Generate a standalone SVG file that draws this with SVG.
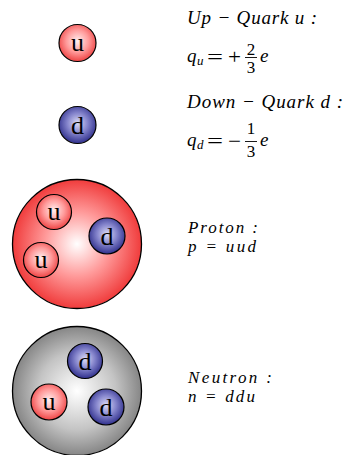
<svg xmlns="http://www.w3.org/2000/svg" width="345" height="455" viewBox="0 0 345 455">
<defs>
<radialGradient id="gRed" cx="50%" cy="45%" r="55%">
<stop offset="0" stop-color="#fff0f0"/>
<stop offset="0.55" stop-color="#ff9a9a"/>
<stop offset="1" stop-color="#ee4444"/>
</radialGradient>
<radialGradient id="gBlue" cx="50%" cy="45%" r="55%">
<stop offset="0" stop-color="#dcdcf6"/>
<stop offset="0.5" stop-color="#8585cc"/>
<stop offset="1" stop-color="#2f2f8c"/>
</radialGradient>
<radialGradient id="gProton" cx="50%" cy="50%" r="50%">
<stop offset="0" stop-color="#ffffff"/>
<stop offset="0.5" stop-color="#ff9a9a"/>
<stop offset="1" stop-color="#f03c3c"/>
</radialGradient>
<radialGradient id="gGray" cx="50%" cy="50%" r="50%">
<stop offset="0" stop-color="#ffffff"/>
<stop offset="0.6" stop-color="#c4c4c4"/>
<stop offset="1" stop-color="#868686"/>
</radialGradient>
</defs>
<style>
.q{stroke:#000;stroke-width:1.2}
.big{stroke:#000;stroke-width:1.3}
.lbl{font-family:'Liberation Serif',serif;font-size:26px;fill:#000;text-anchor:middle}
.m{font-family:'Liberation Serif',serif;font-size:19px;font-style:italic;fill:#000}
.n{font-family:'Liberation Serif',serif;font-size:17px;font-style:italic;fill:#000}
.s{font-family:'Liberation Serif',serif;font-size:13px;font-style:italic;fill:#000}
.op{font-family:'Liberation Serif',serif;font-size:21px;fill:#000}
.f{font-family:'Liberation Serif',serif;font-size:17px;fill:#000;text-anchor:middle}
.bar{stroke:#000;stroke-width:0.9}
</style>

<g id="up-quark">
<circle class="q" cx="77.5" cy="43" r="18.5" fill="url(#gRed)"/>
<text class="lbl" x="77.5" y="51">u</text>
</g>

<g id="down-quark">
<circle class="q" cx="77.5" cy="125" r="18.5" fill="url(#gBlue)"/>
<text class="lbl" x="77.5" y="133.5">d</text>
</g>

<g id="proton">
<circle class="big" cx="77" cy="244" r="64.5" fill="url(#gProton)"/>
<circle class="q" cx="54" cy="212" r="17.5" fill="url(#gRed)"/>
<text class="lbl" x="54" y="219.5">u</text>
<circle class="q" cx="107" cy="236" r="18" fill="url(#gBlue)"/>
<text class="lbl" x="107" y="244.5">d</text>
<circle class="q" cx="41" cy="260" r="17.5" fill="url(#gRed)"/>
<text class="lbl" x="41" y="267.5">u</text>
</g>

<g id="neutron">
<circle class="big" cx="77" cy="391" r="64.5" fill="url(#gGray)"/>
<circle class="q" cx="85" cy="361" r="17.5" fill="url(#gBlue)"/>
<text class="lbl" x="85" y="369.5">d</text>
<circle class="q" cx="49" cy="402" r="18" fill="url(#gRed)"/>
<text class="lbl" x="49" y="409.5">u</text>
<circle class="q" cx="106" cy="407" r="18" fill="url(#gBlue)"/>
<text class="lbl" x="106" y="415.5">d</text>
</g>

<g id="up-label">
<text class="m" x="187" y="24" textLength="130" lengthAdjust="spacing">Up − Quark u :</text>
<text class="m" x="187" y="62">q</text>
<text class="s" x="197" y="65">u</text>
<text class="op" x="207" y="63.5" textLength="16" lengthAdjust="spacingAndGlyphs">=</text>
<text class="op" x="228" y="63.5" textLength="13" lengthAdjust="spacingAndGlyphs">+</text>
<text class="f" x="251" y="54.5">2</text>
<line class="bar" x1="245" y1="57.5" x2="257" y2="57.5"/>
<text class="f" x="251" y="72.5">3</text>
<text class="m" x="260" y="62">e</text>
</g>

<g id="down-label">
<text class="m" x="187" y="108" textLength="156" lengthAdjust="spacing">Down − Quark d :</text>
<text class="m" x="187" y="146">q</text>
<text class="s" x="197" y="149">d</text>
<text class="op" x="207" y="147.5" textLength="16" lengthAdjust="spacingAndGlyphs">=</text>
<text class="op" x="228" y="147.5" textLength="13" lengthAdjust="spacingAndGlyphs">−</text>
<text class="f" x="251" y="134">1</text>
<line class="bar" x1="245" y1="141.5" x2="257" y2="141.5"/>
<text class="f" x="251" y="156.5">3</text>
<text class="m" x="260" y="146">e</text>
</g>

<g id="proton-label">
<text class="n" x="188" y="233" textLength="70" lengthAdjust="spacing">Proton :</text>
<text class="n" x="188" y="252" textLength="68" lengthAdjust="spacing">p = uud</text>
</g>

<g id="neutron-label">
<text class="n" x="188" y="383" textLength="84" lengthAdjust="spacing">Neutron :</text>
<text class="n" x="188" y="402" textLength="67" lengthAdjust="spacing">n = ddu</text>
</g>
</svg>
